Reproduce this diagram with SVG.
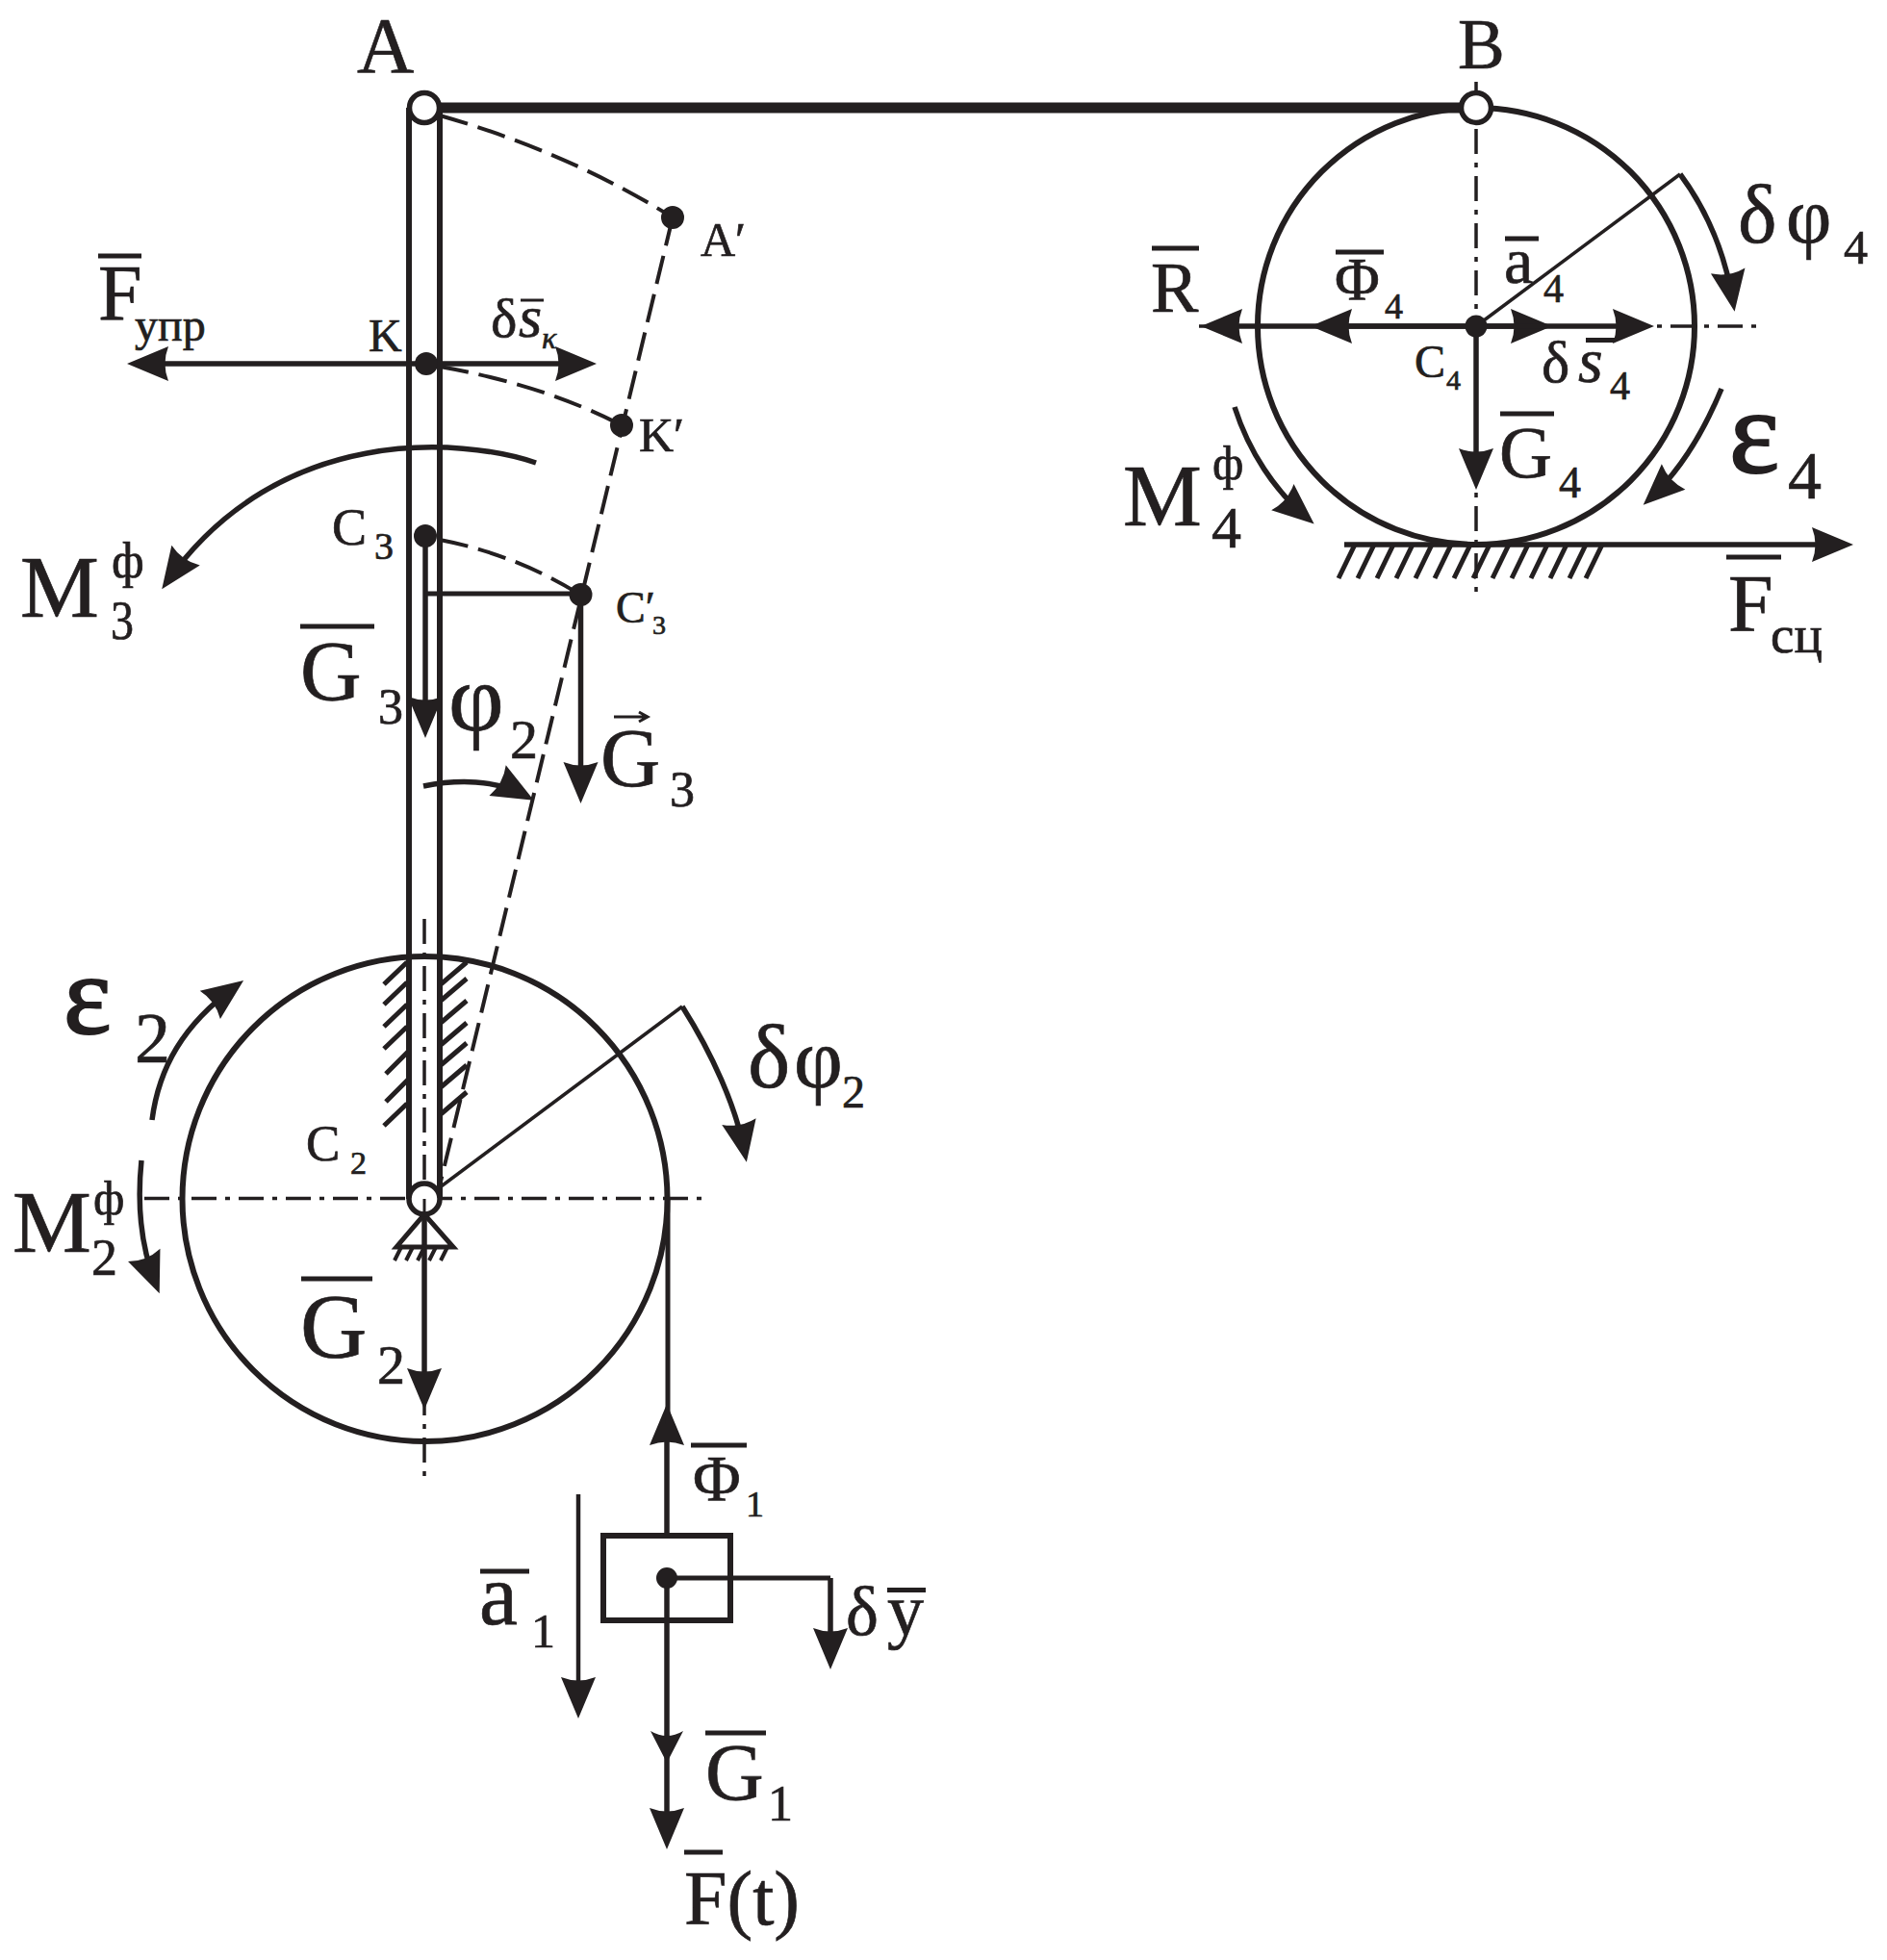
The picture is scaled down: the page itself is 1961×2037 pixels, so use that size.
<svg xmlns="http://www.w3.org/2000/svg" width="1961" height="2037" viewBox="0 0 1961 2037">
<style>
text{font-family:"Liberation Serif","Times New Roman",serif;fill:#231f20;stroke:#231f20;stroke-width:.7}
.i{font-style:italic}
.e{stroke-width:2.2}
.s{fill:none;stroke:#231f20;stroke-width:6}
.l{fill:none;stroke:#231f20;stroke-width:5}
.t{fill:none;stroke:#231f20;stroke-width:3.500}
.o{fill:none;stroke:#231f20;stroke-width:3}
.d{fill:none;stroke:#231f20;stroke-width:4;stroke-dasharray:30 11}
.c{fill:none;stroke:#231f20;stroke-width:3.500;stroke-dasharray:26 9 5 9}
.a{fill:none;stroke:#231f20;stroke-width:5.500;marker-end:url(#h)}
.p{fill:#231f20}
.r{fill:#fff;stroke:#231f20;stroke-width:5.500}
</style>
<defs>
<marker id="h" markerUnits="userSpaceOnUse" markerWidth="46" markerHeight="40" viewBox="0 0 46 40" refX="34" refY="20" orient="auto"><path d="M44,20 L1,2 Q8,20 1,38 Z" fill="#231f20"/></marker>
</defs>
<rect width="1961" height="2037" fill="#fff"/>

<g id="connectors">
<path class="c" d="M1534,85V617"/>
<path class="c" d="M1246,339H1828"/>
<path class="c" d="M150,1245.500H738"/>
<path class="c" d="M441,955V1539"/>
<path class="d" d="M457,120Q590,158 699,226"/>
<path class="d" d="M699,226L457,1232"/>
<path class="d" d="M457,381Q565,400 646,442"/>
<path class="d" d="M457,561Q535,576 603,618"/>
<path class="a" d="M443,378H142"/>
<path class="a" d="M443,378H610"/>
<path class="a" d="M557,481C480,455 290,440 174,604"/>
<path class="a" d="M442,557V757"/>
<path class="l" d="M444,617H603"/>
<path class="a" d="M603.500,618V825"/>
<path class="a" d="M440,817C475,810 515,810 546,827"/>
<path class="a" d="M1534,339H1258"/>
<path class="a" d="M1534,339H1372"/>
<path class="a" d="M1534,339H1603"/>
<path class="a" d="M1534,339H1709"/>
<path class="a" d="M1534,339V499"/>
<path class="t" d="M1534,339L1746,181"/>
<path class="a" d="M1746,181C1775,220 1793,265 1801,314"/>
<path class="a" d="M1789,404C1770,450 1745,490 1715,518"/>
<path class="a" d="M1283,423C1298,470 1325,510 1358,538"/>
<path class="a" d="M1397,566H1916"/>
<path class="a" d="M158,1164C165,1110 190,1065 245,1025"/>
<path class="a" d="M147,1206C142,1255 148,1300 162,1335"/>
<path class="t" d="M441,1246L709,1046"/>
<path class="a" d="M709,1046C740,1095 765,1150 774,1198"/>
<path class="a" d="M441,1246V1455"/>
<path class="a" d="M693,1594V1469"/>
<path class="l" d="M694,1246V1480"/>
<path class="a" d="M693,1640V1912"/>
<path class="l" d="M693,1640H863"/>
<path class="a" d="M863,1640V1725"/>
<path class="a" d="M601,1553V1776" style="stroke-width:4.500"/>
<path class="p" d="M693,1832L676,1799Q693,1809 710,1799Z"/>
</g>

<g id="wheel-2"><circle class="s" cx="441.500" cy="1246" r="252"/></g>
<g id="wheel-4"><circle class="s" cx="1534" cy="339" r="227"/></g>

<g id="rod">
<path class="s" d="M425,1246V112M457,1246V112"/>
<path class="s" d="M441,112H1534" style="stroke-width:11"/>
</g>

<g id="hatch-rod">
<path class="l" d="M423,1000L399,1023M423,1021L399,1044M423,1044L399,1067M423,1067L399,1090M424,1093L401,1116M424,1122L401,1145M423,1147L399,1170"/>
<path class="l" d="M458,1023L485,1000M458,1040L485,1017M458,1063L485,1040M458,1086L485,1063M458,1107L485,1084M458,1130L485,1107M458,1158L485,1135"/>
</g>

<g id="ground">
<path class="l" d="M1408,566L1391,601M1428,566L1411,601M1448,566L1431,601M1468,566L1451,601M1488,566L1471,601M1508,566L1491,601M1528,566L1511,601M1548,566L1531,601M1568,566L1551,601M1588,566L1571,601M1608,566L1591,601M1628,566L1611,601M1648,566L1631,601M1665,566L1648,601"/>
</g>

<g id="support">
<path class="l" d="M441,1262L412,1296H471Z"/>
<path class="o" d="M417,1296L410,1310M429,1296L422,1310M441,1296L434,1310M453,1296L446,1310M465,1296L458,1310" style="stroke-width:4"/>
</g>

<g id="block"><rect class="l" x="627" y="1596" width="132" height="88" style="stroke-width:6"/></g>

<g id="joints">
<circle class="r" cx="441" cy="112" r="15.500"/>
<circle class="r" cx="1534" cy="112" r="15.500"/>
<circle class="r" cx="441" cy="1246" r="16"/>
<path class="o" d="M441,1246V1262"/>
<circle class="p" cx="699" cy="226" r="12"/>
<circle class="p" cx="443" cy="378" r="12"/>
<circle class="p" cx="646" cy="442" r="12"/>
<circle class="p" cx="442" cy="557" r="12"/>
<circle class="p" cx="603.500" cy="618" r="12"/>
<circle class="p" cx="1534" cy="339" r="11.500"/>
<circle class="p" cx="693" cy="1640" r="11"/>
</g>

<g id="labels">
<text x="371" y="75" font-size="82">A</text>
<text x="1515" y="71" font-size="73">B</text>

<path class="l" d="M102,266H147"/>
<text x="102" y="332" font-size="82">F</text>
<text x="140" y="354" font-size="48">упр</text>
<text x="383" y="365" font-size="48">K</text>
<path class="o" d="M541,312H565"/>
<text x="510" y="350" font-size="58">δ</text>
<text class="i" x="539" y="350" font-size="62">s</text>
<text class="i" x="563" y="362" font-size="32">κ</text>
<text x="728" y="266" font-size="50">A′</text>
<text x="664" y="469" font-size="50">K′</text>
<text x="345" y="566" font-size="54">C</text>
<text x="389" y="581" font-size="40">3</text>
<text x="640" y="647" font-size="46">C′</text>
<text x="678" y="659" font-size="28">3</text>

<text x="21" y="641" font-size="92">M</text>
<text x="116" y="600" font-size="52">ф</text>
<text x="115" y="664" font-size="58" textLength="24" lengthAdjust="spacingAndGlyphs">3</text>

<path class="l" d="M312,651H389"/>
<text x="312" y="727" font-size="88">G</text>
<text x="393" y="752" font-size="52">3</text>
<text x="466" y="759" font-size="100">φ</text>
<text x="530" y="788" font-size="58">2</text>

<path class="o" d="M638,745H672M664,740L673,745L664,750"/>
<text x="624" y="817" font-size="86">G</text>
<text x="696" y="838" font-size="52">3</text>

<path class="l" d="M1197,258H1246"/>
<text x="1196" y="324" font-size="74">R</text>
<path class="l" d="M1388,262H1438"/>
<text x="1387" y="312" font-size="64">Φ</text>
<text x="1439" y="331" font-size="38">4</text>
<path class="l" d="M1564,248H1599"/>
<text x="1563" y="294" font-size="68">a</text>
<text x="1604" y="314" font-size="42">4</text>
<text x="1806" y="252" font-size="86">δ</text>
<text x="1856" y="252" font-size="82">φ</text>
<text x="1916" y="274" font-size="50">4</text>
<text x="1470" y="392" font-size="48">C</text>
<text x="1503" y="405" font-size="30">4</text>
<path class="l" d="M1648,353.500H1678"/>
<text x="1602" y="397" font-size="62">δ</text>
<text class="i" x="1640" y="397" font-size="66">s</text>
<text x="1673" y="415" font-size="42">4</text>
<path class="l" d="M1559,430H1615"/>
<text x="1558" y="496" font-size="76">G</text>
<text x="1620" y="517" font-size="46">4</text>
<text class="e" x="1797" y="491" font-size="124">ε</text>
<text x="1858" y="518" font-size="70">4</text>
<text x="1167" y="546" font-size="92">M</text>
<text x="1260" y="498" font-size="50">ф</text>
<text x="1259" y="569" font-size="62">4</text>
<path class="l" d="M1794,579H1851"/>
<text x="1796" y="656" font-size="84">F</text>
<text x="1840" y="678" font-size="55">сц</text>

<text class="e" x="66" y="1074" font-size="118">ε</text>
<text x="140" y="1104" font-size="74">2</text>
<text x="13" y="1301" font-size="92">M</text>
<text x="97" y="1262" font-size="50">ф</text>
<text x="95" y="1325" font-size="54">2</text>
<text x="318" y="1206" font-size="53">C</text>
<text x="364" y="1220" font-size="34">2</text>
<text x="777" y="1130" font-size="94">δ</text>
<text x="825" y="1130" font-size="88">φ</text>
<text x="875" y="1151" font-size="48">2</text>
<path class="l" d="M313,1329H387"/>
<text x="312" y="1411" font-size="96">G</text>
<text x="392" y="1438" font-size="58">2</text>

<path class="l" d="M718,1502H776"/>
<text x="720" y="1559" font-size="68">Φ</text>
<text x="775" y="1576" font-size="38">1</text>
<path class="l" d="M499,1633H550"/>
<text x="498" y="1688" font-size="90">a</text>
<text x="552" y="1712" font-size="50">1</text>
<path class="l" d="M922,1652.500H962"/>
<text x="879" y="1699" font-size="72">δ</text>
<text x="922" y="1699" font-size="76">y</text>
<path class="l" d="M733,1801H796"/>
<text x="733" y="1871" font-size="84">G</text>
<text x="798" y="1892" font-size="52">1</text>
<path class="l" d="M711,1925H751"/>
<text x="711" y="2000" font-size="80">F(t)</text>
</g>
</svg>
